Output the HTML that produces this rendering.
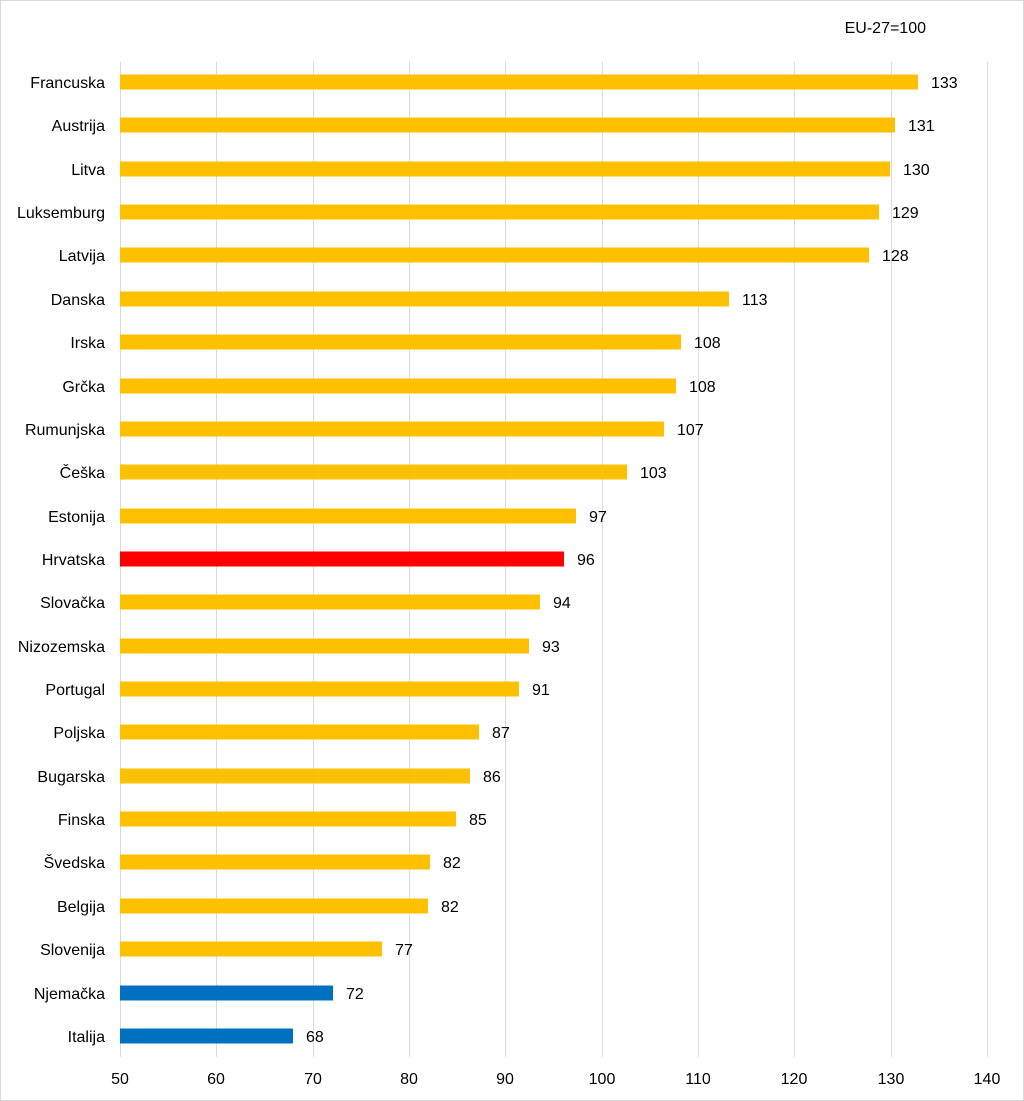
<!DOCTYPE html>
<html><head><meta charset="utf-8"><style>
html,body{margin:0;padding:0;background:#fff}
svg{display:block}
text{font-family:"Liberation Sans",Arial,sans-serif;font-size:16px;fill:#000}
.l{text-anchor:end}
</style></head><body>
<svg width="1024" height="1101" xmlns="http://www.w3.org/2000/svg">
<rect x="0.5" y="0.5" width="1023" height="1100" fill="#fff" stroke="#d9d9d9"/>
<text x="926" y="33" text-anchor="end">EU-27=100</text>
<g stroke="#d9d9d9" stroke-width="1">
<line x1="120.5" y1="62" x2="120.5" y2="1057"/>
<line x1="216.5" y1="62" x2="216.5" y2="1057"/>
<line x1="313.5" y1="62" x2="313.5" y2="1057"/>
<line x1="409.5" y1="62" x2="409.5" y2="1057"/>
<line x1="505.5" y1="62" x2="505.5" y2="1057"/>
<line x1="602.5" y1="62" x2="602.5" y2="1057"/>
<line x1="698.5" y1="62" x2="698.5" y2="1057"/>
<line x1="794.5" y1="62" x2="794.5" y2="1057"/>
<line x1="891.5" y1="62" x2="891.5" y2="1057"/>
<line x1="987.5" y1="62" x2="987.5" y2="1057"/>
</g>
<g text-anchor="middle">
<text x="120" y="1084">50</text><text x="216" y="1084">60</text><text x="313" y="1084">70</text>
<text x="409" y="1084">80</text><text x="505" y="1084">90</text><text x="602" y="1084">100</text>
<text x="698" y="1084">110</text><text x="794" y="1084">120</text><text x="891" y="1084">130</text>
<text x="987" y="1084">140</text>
</g>
<g fill="#FFC000">
<rect x="120" y="74.5" width="798" height="15"/>
<rect x="120" y="117.5" width="775" height="15"/>
<rect x="120" y="161.5" width="770" height="15"/>
<rect x="120" y="204.5" width="759" height="15"/>
<rect x="120" y="247.5" width="749" height="15"/>
<rect x="120" y="291.5" width="609" height="15"/>
<rect x="120" y="334.5" width="561" height="15"/>
<rect x="120" y="378.5" width="556" height="15"/>
<rect x="120" y="421.5" width="544" height="15"/>
<rect x="120" y="464.5" width="507" height="15"/>
<rect x="120" y="508.5" width="456" height="15"/>
<rect x="120" y="551.5" width="444" height="15" fill="#FF0000"/>
<rect x="120" y="594.5" width="420" height="15"/>
<rect x="120" y="638.5" width="409" height="15"/>
<rect x="120" y="681.5" width="399" height="15"/>
<rect x="120" y="724.5" width="359" height="15"/>
<rect x="120" y="768.5" width="350" height="15"/>
<rect x="120" y="811.5" width="336" height="15"/>
<rect x="120" y="854.5" width="310" height="15"/>
<rect x="120" y="898.5" width="308" height="15"/>
<rect x="120" y="941.5" width="262" height="15"/>
<rect x="120" y="985.5" width="213" height="15" fill="#0070C0"/>
<rect x="120" y="1028.5" width="173" height="15" fill="#0070C0"/>
</g>
<g>
<text class="l" x="105" y="88">Francuska</text><text x="931" y="88">133</text>
<text class="l" x="105" y="131">Austrija</text><text x="908" y="131">131</text>
<text class="l" x="105" y="175">Litva</text><text x="903" y="175">130</text>
<text class="l" x="105" y="218">Luksemburg</text><text x="892" y="218">129</text>
<text class="l" x="105" y="261">Latvija</text><text x="882" y="261">128</text>
<text class="l" x="105" y="305">Danska</text><text x="742" y="305">113</text>
<text class="l" x="105" y="348">Irska</text><text x="694" y="348">108</text>
<text class="l" x="105" y="392">Grčka</text><text x="689" y="392">108</text>
<text class="l" x="105" y="435">Rumunjska</text><text x="677" y="435">107</text>
<text class="l" x="105" y="478">Češka</text><text x="640" y="478">103</text>
<text class="l" x="105" y="522">Estonija</text><text x="589" y="522">97</text>
<text class="l" x="105" y="565">Hrvatska</text><text x="577" y="565">96</text>
<text class="l" x="105" y="608">Slovačka</text><text x="553" y="608">94</text>
<text class="l" x="105" y="652">Nizozemska</text><text x="542" y="652">93</text>
<text class="l" x="105" y="695">Portugal</text><text x="532" y="695">91</text>
<text class="l" x="105" y="738">Poljska</text><text x="492" y="738">87</text>
<text class="l" x="105" y="782">Bugarska</text><text x="483" y="782">86</text>
<text class="l" x="105" y="825">Finska</text><text x="469" y="825">85</text>
<text class="l" x="105" y="868">Švedska</text><text x="443" y="868">82</text>
<text class="l" x="105" y="912">Belgija</text><text x="441" y="912">82</text>
<text class="l" x="105" y="955">Slovenija</text><text x="395" y="955">77</text>
<text class="l" x="105" y="999">Njemačka</text><text x="346" y="999">72</text>
<text class="l" x="105" y="1042">Italija</text><text x="306" y="1042">68</text>
</g>
</svg>
</body></html>
